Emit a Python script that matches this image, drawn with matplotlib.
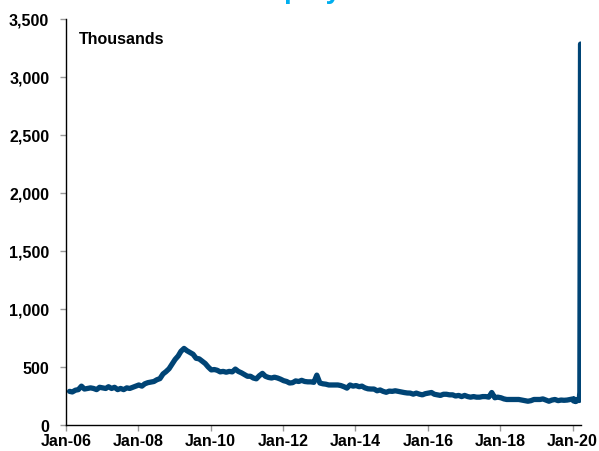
import matplotlib.pyplot as plt
import matplotlib.dates as mdates
import numpy as np
import pandas as pd

plt.rcParams['font.family'] = ['Liberation Sans', 'DejaVu Sans']
plt.rcParams['font.weight'] = 'bold'

# --- DATA ---------------------------------- #
# monthly readings of weekly initial claims (thousands), Jan-2006 .. Dec-2019
claims_2006 = [290, 285, 300, 305, 335, 310, 315, 320, 315, 305, 325, 320]
claims_2007 = [315, 330, 315, 325, 305, 315, 305, 320, 315, 325, 335, 345]
claims_2008 = [335, 355, 365, 370, 375, 390, 400, 440, 460, 485, 525, 565]
claims_2009 = [595, 635, 660, 640, 625, 610, 575, 570, 550, 530, 500, 475]
claims_2010 = [478, 472, 458, 462, 455, 462, 458, 482, 462, 450, 435, 420]
claims_2011 = [420, 405, 398, 425, 445, 420, 410, 405, 412, 405, 395, 382]
claims_2012 = [375, 362, 365, 380, 375, 385, 375, 372, 372, 368, 430, 362]
claims_2013 = [355, 352, 345, 345, 345, 345, 340, 330, 318, 345, 335, 340]
claims_2014 = [330, 335, 320, 312, 310, 310, 295, 302, 290, 282, 292, 290]
claims_2015 = [295, 290, 285, 280, 276, 275, 266, 275, 266, 260, 270, 275]
claims_2016 = [280, 265, 260, 255, 265, 265, 260, 260, 250, 255, 245, 255]
claims_2017 = [245, 240, 245, 240, 240, 245, 245, 240, 280, 235, 240, 235]
claims_2018 = [225, 220, 220, 220, 220, 220, 215, 210, 205, 210, 220, 220]
claims_2019 = [220, 225, 215, 205, 215, 220, 210, 215, 213, 215, 220, 225]

# weekly readings at the start of 2020
weeks_2020 = ["2020-01-04", "2020-01-11", "2020-01-18", "2020-01-25",
              "2020-02-01", "2020-02-08", "2020-02-15", "2020-02-22",
              "2020-02-29", "2020-03-07", "2020-03-14", "2020-03-21"]
claims_2020 = [214, 207, 223, 216, 202, 205, 211, 219, 216, 211, 282, 3283]

monthly = (claims_2006 + claims_2007 + claims_2008 + claims_2009 + claims_2010
           + claims_2011 + claims_2012 + claims_2013 + claims_2014 + claims_2015
           + claims_2016 + claims_2017 + claims_2018 + claims_2019)
months = pd.date_range("2006-01-07", periods=len(monthly), freq="MS") + pd.Timedelta(days=6)
dates = list(months) + list(pd.to_datetime(weeks_2020))
values = monthly + claims_2020
# ------------------------------------------- #

fig = plt.figure(figsize=(5.99, 4.52), dpi=100)
ax = fig.add_axes([0.110, 0.0575, 0.860, 0.8985])

ax.plot(dates, values, color='#004475', linewidth=3.8, solid_joinstyle='round',
        solid_capstyle='round')

ax.set_ylim(0, 3500)
ax.set_yticks(np.arange(0, 3501, 500))
ax.yaxis.set_major_formatter(plt.FuncFormatter(lambda v, p: f"{int(v):,}"))

ax.set_xlim(pd.Timestamp("2006-01-01"), pd.Timestamp("2020-03-26"))
ax.set_xticks(pd.to_datetime([f"{y}-01-01" for y in range(2006, 2021, 2)]))
ax.xaxis.set_major_formatter(mdates.DateFormatter("Jan-%y"))

for s in ['top', 'right']:
    ax.spines[s].set_visible(False)
for s in ['left', 'bottom']:
    ax.spines[s].set_color('black')
    ax.spines[s].set_linewidth(1.0)

ax.tick_params(axis='both', direction='out', length=4, width=1, color='#999999',
               labelsize=11.5, labelcolor='black')
ax.tick_params(axis='y', pad=8)
ax.tick_params(axis='x', pad=2)
for lbl in ax.get_xticklabels() + ax.get_yticklabels():
    lbl.set_fontweight('bold')

ax.text(79 / 599, 1 - 40 / 452, "Thousands", transform=fig.transFigure,
        fontsize=11.5, fontweight='bold', va='center', ha='left')

# title sits above the top edge, only its descenders show (as in the source)
fig.text(316 / 599, 1 + 2 / 452, "Initial Unemployment Claims", color='#00AEEF',
         fontsize=20, fontweight='bold', ha='center', va='baseline')

fig.savefig("out.png", dpi=100)
